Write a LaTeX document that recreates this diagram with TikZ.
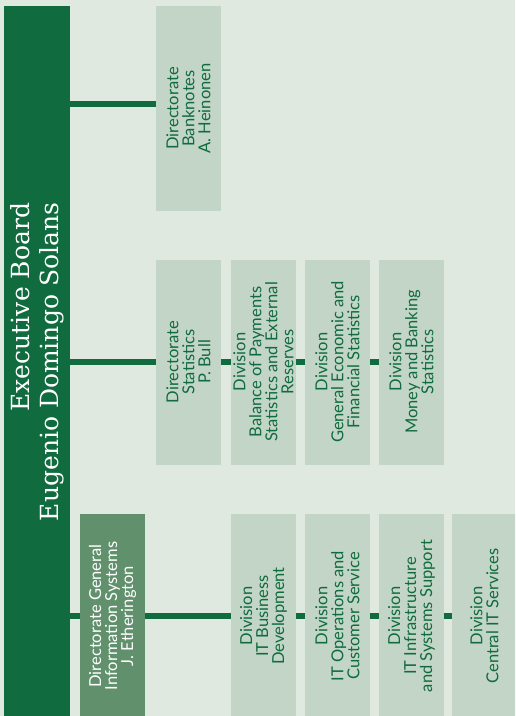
\documentclass[tikz,border=0pt]{standalone}
\usepackage{fontspec}
\newfontfamily\latof{Lato}
\newfontfamily\dvserif{DejaVu Serif}
\definecolor{bgc}{RGB}{224,233,224}
\definecolor{dkgreen}{RGB}{16,107,62}
\definecolor{boxfill}{RGB}{194,213,198}
\definecolor{midgreen}{RGB}{96,144,108}
\tikzset{
  unitbox/.style={rotate=90, minimum width=205pt, minimum height=65pt, inner sep=0pt,
    align=center, font=\latof\fontsize{16.5}{16}\selectfont, text=dkgreen, fill=boxfill},
  headbox/.style={unitbox, fill=midgreen, text=white},
  board/.style={rotate=90, minimum width=712pt, minimum height=66pt, inner sep=0pt,
    align=right, font=\dvserif\fontsize{25}{29}\selectfont, text=white, fill=dkgreen},
  conn/.style={draw=dkgreen, line width=5.5pt}
}
\begin{document}
\begin{tikzpicture}[x=1pt,y=-1pt]
\useasboundingbox (0,0) rectangle (515,716);
\fill[bgc] (0,0) rectangle (515,716);
\clip (0,0) rectangle (515,716);
% executive board
\node[board] (exec) at (37,362) {Executive Board\\Eugenio Domingo Solans};
% banknotes
\node[unitbox] (bank) at (188.5,108.5) {Directorate\\Banknotes\\A. Heinonen};
% statistics row
\node[unitbox] (stdir) at (188.5,362) {Directorate\\Statistics\\P. Bull};
\node[unitbox] (bop) at (263.5,362) {Division\\Balance of Payments\\Statistics and External\\Reserves};
\node[unitbox] (gen) at (337.5,362) {Division\\General Economic and\\Financial Statistics};
\node[unitbox] (mon) at (411.5,362) {Division\\Money and Banking\\Statistics};
% IT row
\node[headbox] (itdir) at (112.5,616) {Directorate General\\Information Systems\\J. Etherington};
\node[unitbox] (itbd) at (263.5,616) {Division\\IT Business\\Development};
\node[unitbox] (itops) at (337.5,616) {Division\\IT Operations and\\Customer Service};
\node[unitbox] (itinf) at (411.5,616) {Division\\IT Infrastructure\\and Systems Support};
\node[unitbox] (itcen) at (484.5,616) {Division\\Central IT Services};
% connectors
\draw[conn] ([yshift=4.5pt]exec.south |- bank.center) -- ([yshift=4.5pt]bank.north);
\draw[conn] (exec.south |- stdir.center) -- (stdir.north);
\draw[conn] (stdir.south) -- (bop.north);
\draw[conn] (bop.south) -- (gen.north);
\draw[conn] (gen.south) -- (mon.north);
\draw[conn] (exec.south |- itdir.center) -- (itdir.north);
\draw[conn] (itdir.south) -- (itbd.north);
\draw[conn] (itbd.south) -- (itops.north);
\draw[conn] (itops.south) -- (itinf.north);
\draw[conn] (itinf.south) -- (itcen.north);
\end{tikzpicture}
\end{document}
